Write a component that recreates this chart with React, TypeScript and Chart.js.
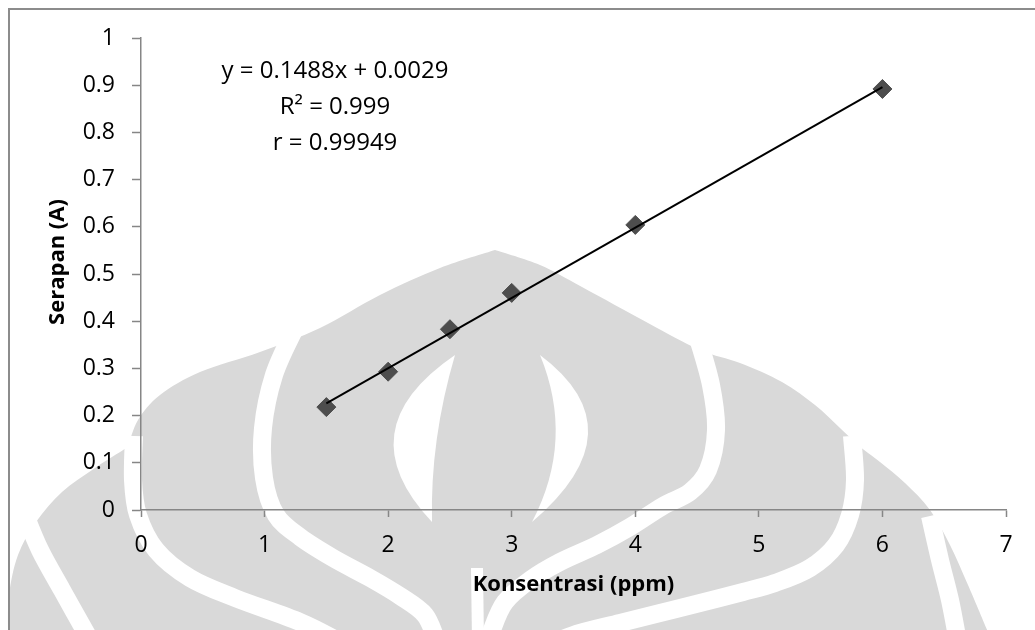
import { useEffect, useRef } from "react";
import { Chart, registerables } from "chart.js";

Chart.register(...registerables);

// ---- data ----
const concentrations = [1.5, 2, 2.5, 3, 4, 6];
const absorbances = [0.218, 0.293, 0.383, 0.46, 0.604, 0.892];
const trendSlope = 0.1488;
const trendIntercept = 0.0029;
const trendXRange = [1.5, 6];
const xTickValues = [0, 1, 2, 3, 4, 5, 6, 7];
const yTickValues = [0, 0.1, 0.2, 0.3, 0.4, 0.5, 0.6, 0.7, 0.8, 0.9, 1];
const equationLines = ["y = 0.1488x + 0.0029", "R² = 0.999", "r = 0.99949"];
const equationAnchor = { x: 1.57, y: 0.915 };
const xTitle = "Konsentrasi (ppm)";
const yTitle = "Serapan (A)";

type Pt = [number, number];

function smooth(ctx: CanvasRenderingContext2D, pts: Pt[], move: boolean) {
  if (move) ctx.moveTo(pts[0][0], pts[0][1]);
  else ctx.lineTo(pts[0][0], pts[0][1]);
  for (let i = 0; i < pts.length - 1; i++) {
    const p0 = pts[i - 1] || pts[i];
    const p1 = pts[i];
    const p2 = pts[i + 1];
    const p3 = pts[i + 2] || p2;
    ctx.bezierCurveTo(
      p1[0] + (p2[0] - p0[0]) / 6,
      p1[1] + (p2[1] - p0[1]) / 6,
      p2[0] - (p3[0] - p1[0]) / 6,
      p2[1] - (p3[1] - p1[1]) / 6,
      p2[0],
      p2[1]
    );
  }
}

// background watermark (decorative logo behind the chart)
const watermarkPlugin = {
  id: "watermark",
  beforeDraw(chart: any) {
    const ctx: CanvasRenderingContext2D = chart.ctx;
    ctx.save();
    ctx.fillStyle = "#d9d9d9";
    ctx.beginPath();
    smooth(ctx, [[495, 250], [440, 268], [380, 295], [320, 328], [260, 352], [200, 372], [160, 395], [138, 420], [128, 447]], true);
    smooth(ctx, [[128, 447], [95, 468], [62, 492], [36, 522], [18, 555], [9, 595], [8, 632]], false);
    ctx.lineTo(990, 632);
    smooth(ctx, [[988, 632], [968, 585], [950, 545], [930, 510], [905, 483], [880, 462], [860, 447]], false);
    smooth(ctx, [[860, 447], [840, 428], [815, 405], [782, 382], [740, 363], [700, 350], [648, 323], [582, 287], [540, 265], [495, 250]], false);
    ctx.closePath();
    ctx.fill();

    ctx.strokeStyle = "#ffffff";
    ctx.lineCap = "butt";
    const bands: Pt[][] = [
      [[294, 330], [274, 375], [263, 428], [264, 478], [276, 515], [300, 537], [333, 558], [370, 578], [400, 596], [425, 615], [437, 642]],
      [[698, 338], [711, 385], [716, 430], [708, 470], [690, 492], [663, 506], [630, 527], [597, 545], [560, 562], [530, 580], [505, 602], [492, 630], [490, 642]],
      [[134, 436], [133, 480], [138, 515], [156, 550], [190, 578], [235, 598], [300, 622], [340, 642]],
      [[852, 436], [855, 480], [850, 515], [836, 545], [810, 568], [775, 583], [743, 592], [700, 603], [660, 613], [620, 623], [580, 633], [555, 642]],
      [[24, 512], [40, 550], [62, 590], [90, 640]],
      [[930, 516], [940, 560], [950, 600], [958, 642]],
    ];
    ctx.lineWidth = 18;
    for (const b of bands) {
      ctx.beginPath();
      smooth(ctx, b, true);
      ctx.stroke();
    }
    ctx.lineWidth = 12;
    ctx.beginPath();
    ctx.moveTo(477, 568);
    ctx.lineTo(478, 642);
    ctx.stroke();

    ctx.fillStyle = "#ffffff";
    ctx.beginPath();
    ctx.moveTo(455, 355);
    ctx.quadraticCurveTo(345, 430, 432, 522);
    ctx.quadraticCurveTo(430, 440, 455, 355);
    ctx.fill();
    ctx.beginPath();
    ctx.moveTo(540, 355);
    ctx.quadraticCurveTo(640, 430, 532, 522);
    ctx.quadraticCurveTo(575, 440, 540, 355);
    ctx.fill();
    ctx.restore();
  },
};

const equationPlugin = {
  id: "equation",
  afterDatasetsDraw(chart: any) {
    const ctx: CanvasRenderingContext2D = chart.ctx;
    const x = chart.scales.x.getPixelForValue(equationAnchor.x);
    const y = chart.scales.y.getPixelForValue(equationAnchor.y);
    ctx.save();
    ctx.font = "24px 'Open Sans'";
    ctx.fillStyle = "#000000";
    ctx.textAlign = "center";
    ctx.textBaseline = "alphabetic";
    equationLines.forEach((line, i) => ctx.fillText(line, x, y + i * 36));
    ctx.restore();
  },
};

// y-axis title, placed slightly above the plot-area centre as in the reference
const yTitlePlugin = {
  id: "yTitle",
  afterDraw(chart: any) {
    const ctx: CanvasRenderingContext2D = chart.ctx;
    const area = chart.chartArea;
    ctx.save();
    ctx.translate(58, (area.top + area.bottom) / 2 - 12);
    ctx.rotate(-Math.PI / 2);
    ctx.font = "bold 22px 'Open Sans'";
    ctx.fillStyle = "#000000";
    ctx.textAlign = "center";
    ctx.textBaseline = "middle";
    ctx.fillText(yTitle, 0, 0);
    ctx.restore();
  },
};

export default function App() {
  const canvasRef = useRef<HTMLCanvasElement | null>(null);

  useEffect(() => {
    const canvas = canvasRef.current;
    if (!canvas) return;
    const points = concentrations.map((c, i) => ({ x: c, y: absorbances[i] }));
    const trend = trendXRange.map((c) => ({ x: c, y: trendSlope * c + trendIntercept }));
    const axisColor = "#868686";
    const tickFont = { family: "'Open Sans'", size: 23 };

    const chart = new Chart(canvas, {
      type: "scatter",
      data: {
        datasets: [
          {
            label: "Linear",
            data: trend,
            showLine: true,
            borderColor: "#000000",
            borderWidth: 2,
            pointRadius: 0,
            fill: false,
          },
          {
            label: "Serapan",
            data: points,
            pointStyle: "rectRot",
            pointRadius: 9.5,
            pointBackgroundColor: "#4d4d4d",
            pointBorderColor: "#4d4d4d",
            pointBorderWidth: 1,
            showLine: false,
          },
        ],
      },
      options: {
        animation: false,
        responsive: false,
        maintainAspectRatio: false,
        layout: { padding: { top: 38, right: 29, left: 0, bottom: 0 } },
        plugins: { legend: { display: false }, tooltip: { enabled: false } },
        scales: {
          x: {
            type: "linear",
            min: 0,
            max: 7,
            afterBuildTicks: (s: any) => {
              s.ticks = xTickValues.map((v) => ({ value: v }));
            },
            afterFit: (s: any) => {
              s.height = 120;
            },
            ticks: {
              font: tickFont,
              color: "#000000",
              padding: 15,
              maxRotation: 0,
              callback: (v: any) => String(v),
            },
            grid: {
              drawOnChartArea: false,
              drawTicks: true,
              tickLength: 7,
              tickColor: axisColor,
              tickWidth: 1.5,
            },
            border: { color: axisColor, width: 1.5 },
            title: {
              display: true,
              text: xTitle,
              font: { family: "'Open Sans'", size: 22, weight: "bold" },
              color: "#000000",
              padding: { top: 0, bottom: 32 },
            },
          },
          y: {
            type: "linear",
            min: 0,
            max: 1,
            afterBuildTicks: (s: any) => {
              s.ticks = yTickValues.map((v) => ({ value: v }));
            },
            afterFit: (s: any) => {
              s.width = 141;
            },
            ticks: {
              font: tickFont,
              color: "#000000",
              padding: 17,
              callback: (v: any) => String(Number(Number(v).toFixed(1))),
            },
            grid: {
              drawOnChartArea: false,
              drawTicks: true,
              tickLength: 9,
              tickColor: axisColor,
              tickWidth: 1.5,
            },
            border: { color: axisColor, width: 1.5 },
            title: { display: false, text: yTitle },
          },
        },
      },
      plugins: [watermarkPlugin, equationPlugin, yTitlePlugin],
    } as any);

    return () => chart.destroy();
  }, []);

  return (
    <div style={{ position: "fixed", left: 0, top: 0, width: 1035, height: 630, background: "#ffffff", overflow: "hidden" }}>
      <canvas ref={canvasRef} width={1035} height={630} style={{ position: "absolute", left: 0, top: 0, width: 1035, height: 630 }} />
      <div
        style={{
          position: "absolute",
          left: 8,
          top: 8,
          width: 1040,
          height: 640,
          borderLeft: "2px solid #8c8c8c",
          borderTop: "2px solid #8c8c8c",
          pointerEvents: "none",
        }}
      />
    </div>
  );
}
